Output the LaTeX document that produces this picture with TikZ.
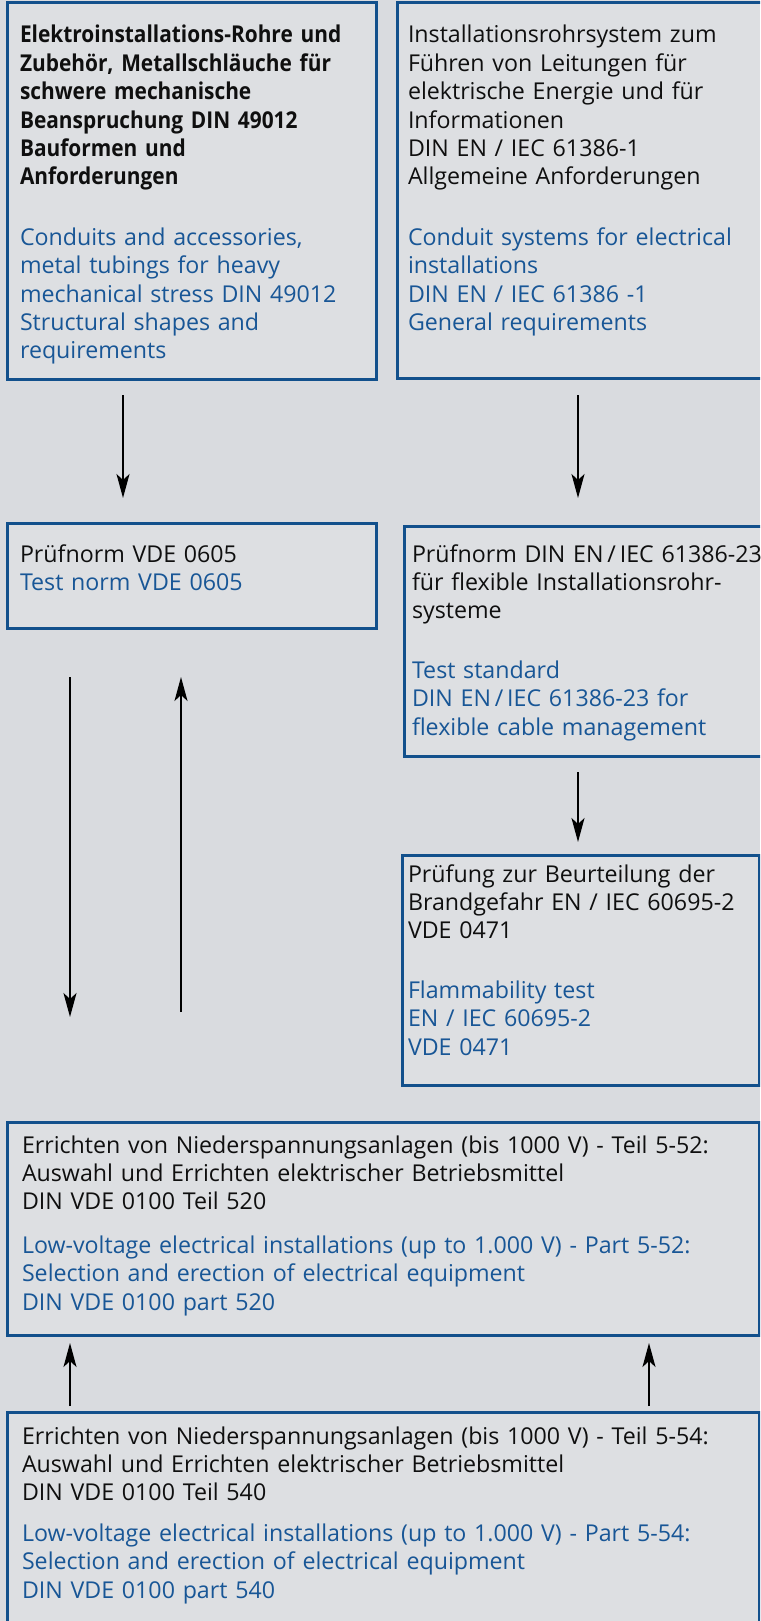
\documentclass[tikz,border=0pt]{standalone}
\usepackage{fontspec}
\setmainfont{Open Sans}[BoldFeatures={FakeStretch=0.9}]
\usepackage{xcolor}
\usetikzlibrary{arrows.meta,positioning,calc}
\definecolor{normblue}{RGB}{18,80,140}
\definecolor{normbluetxt}{RGB}{24,86,150}
\definecolor{bggray}{RGB}{217,219,223}
\definecolor{txtblack}{RGB}{15,15,15}
\newcommand{\normfont}{\fontsize{23.2pt}{28.4pt}\selectfont}
\newcommand{\entxt}{\color{normbluetxt}}
\tikzset{
  normbox/.style={rectangle, draw=normblue, line width=3pt,
    fill=white, fill opacity=0.12, text opacity=1,
    anchor=north west, align=left, inner ysep=0pt, outer sep=0pt,
    font=\normfont, text=txtblack},
  arr/.style={-{Stealth[length=24pt, width=13pt, inset=6pt]}, line width=2pt, color=black}
}

\begin{document}
\begin{tikzpicture}[x=1pt, y=-1pt]

\useasboundingbox (0,0) rectangle (760,1621);
\fill[bggray] (0,0) rectangle (760,1621);
\clip (0,0) rectangle (760,1621);

%% top row
\node[normbox, text width=343pt, inner xsep=13pt, text height=40pt, text depth=336pt]
  (gen) at (7,3) {\textbf{Elektroinstallations-Rohre und}\\
  \textbf{Zubehör, Metallschläuche für}\\
  \textbf{schwere mechanische}\\
  \textbf{Beanspruchung DIN 49012}\\
  \textbf{Bauformen und}\\
  \textbf{Anforderungen}\\[32pt]
  \entxt Conduits and accessories,\\
  metal tubings for heavy\\
  mechanical stress DIN 49012\\
  Structural shapes and\\
  requirements};
\node[normbox, text width=356pt, inner xsep=11pt, text height=40pt, text depth=335pt]
  (iec) at (397,3) {Installationsrohrsystem zum\\
  Führen von Leitungen für\\
  elektrische Energie und für\\
  Informationen\\
  DIN EN / IEC 61386-1\\
  Allgemeine Anforderungen\\[32pt]
  \entxt Conduit systems for electrical\\
  installations\\
  DIN EN / IEC 61386 -1\\
  General requirements};

%% test norms
\node[normbox, text width=343pt, inner xsep=13pt, text height=39pt, text depth=66pt]
  (vde) at (7,523) {Prüfnorm VDE 0605\\
  \entxt Test norm VDE 0605};
\node[normbox, text width=355pt, inner xsep=8pt, text height=36pt, text depth=194pt]
  (flex) at (404,526) {Prüfnorm DIN EN\,/\,IEC 61386-23\\
  für flexible Installationsrohr-\\
  systeme\\[31pt]
  \entxt Test standard\\
  DIN EN\,/\,IEC 61386-23 for\\
  flexible cable management};
\node[normbox, text width=345pt, inner xsep=6pt, text height=27pt, text depth=203pt]
  (fire) at (402,855) {Prüfung zur Beurteilung der\\
  Brandgefahr EN / IEC 60695-2\\
  VDE 0471\\[31pt]
  \entxt Flammability test\\
  EN / IEC 60695-2\\
  VDE 0471};

%% installation
\node[normbox, text width=722pt, inner xsep=15pt, text height=31pt, text depth=182pt]
  (inst) at (7,1122) {Errichten von Niederspannungsanlagen (bis 1000 V) - Teil 5-52:\\
  Auswahl und Errichten elektrischer Betriebsmittel\\
  DIN VDE 0100 Teil 520\\[15pt]
  \entxt Low-voltage electrical installations (up to 1.000 V) - Part 5-52:\\
  Selection and erection of electrical equipment\\
  DIN VDE 0100 part 520};
\node[normbox, text width=722pt, inner xsep=15pt, text height=32pt, text depth=196pt]
  (sel) at (7,1412) {Errichten von Niederspannungsanlagen (bis 1000 V) - Teil 5-54:\\
  Auswahl und Errichten elektrischer Betriebsmittel\\
  DIN VDE 0100 Teil 540\\[12pt]
  \entxt Low-voltage electrical installations (up to 1.000 V) - Part 5-54:\\
  Selection and erection of electrical equipment\\
  DIN VDE 0100 part 540};

%% arrows
\draw[arr] ($(gen.south west)+(116,16)$) -- ($(vde.north west)+(116,-25)$);
\draw[arr] ($(iec.south west)+(181,17)$) -- ($(flex.north west)+(174,-28)$);
\draw[arr] ($(flex.south west)+(174,16)$) -- ($(fire.north west)+(176,-13)$);
\draw[arr] ($(vde.south west)+(63,49)$) -- ($(inst.north west)+(63,-105)$);
\draw[arr] ($(inst.north west)+(174,-110)$) -- ($(vde.south west)+(174,49)$);
\draw[arr] ($(sel.north west)+(63,-6)$) -- ($(inst.south west)+(63,8)$);
\draw[arr] ($(sel.north west)+(642,-6)$) -- ($(inst.south west)+(642,8)$);

\end{tikzpicture}
\end{document}
